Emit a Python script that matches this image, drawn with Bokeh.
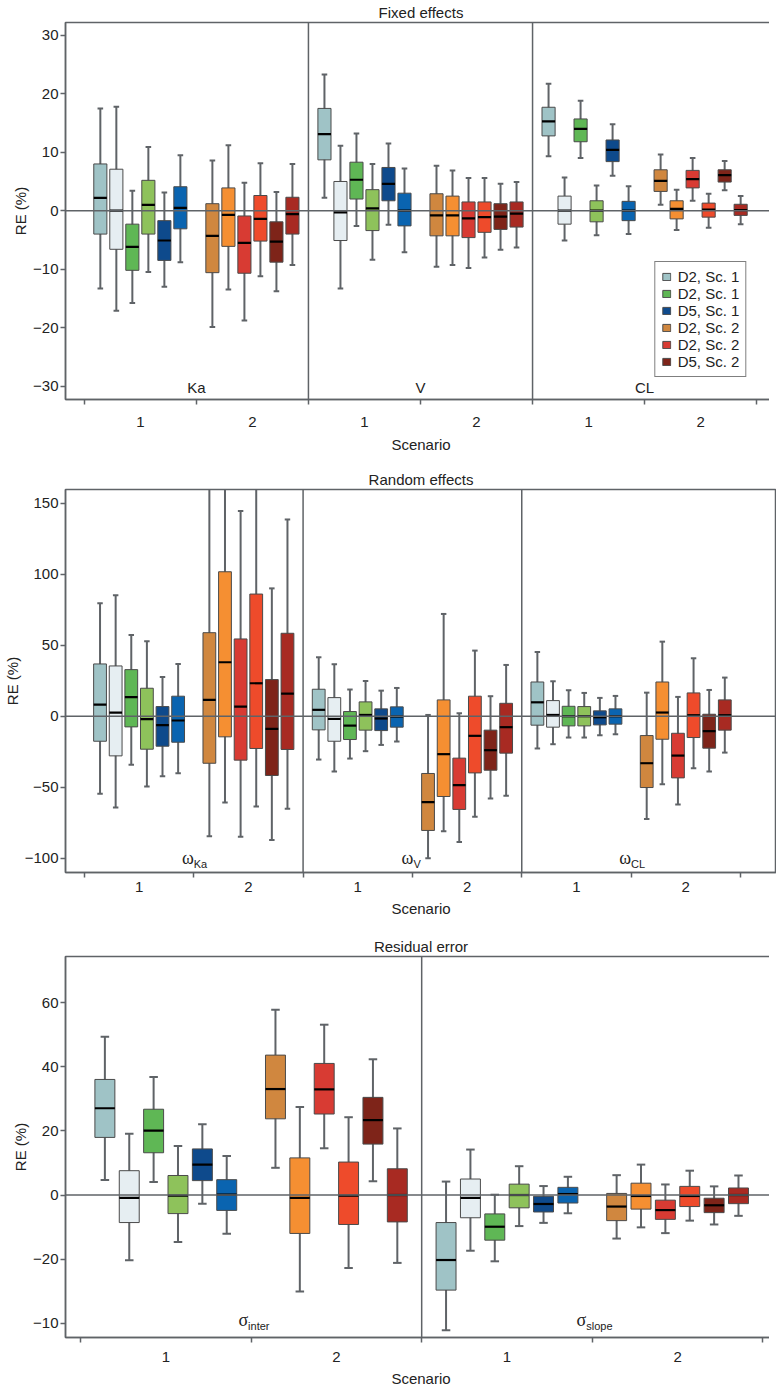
from bokeh.plotting import figure
from bokeh.models import Range1d, FixedTicker, Span, Legend, LegendItem, ColumnDataSource
from bokeh.layouts import column
from bokeh.embed import file_html
from bokeh.resources import INLINE
from bokeh.core.properties import value

# ---------------- data ----------------
SERIES = ["D2, Sc. 1 (a)", "D2, Sc. 1 (b)", "D2, Sc. 1 (c)", "D2, Sc. 1 (d)", "D5, Sc. 1 (a)", "D5, Sc. 1 (b)",
          "D2, Sc. 2 (a)", "D2, Sc. 2 (b)", "D2, Sc. 2 (c)", "D2, Sc. 2 (d)", "D5, Sc. 2 (a)", "D5, Sc. 2 (b)"]
COLORS = ["#9fc3c6", "#e6eef2", "#5fb755", "#8ec25b", "#0e4a8c", "#0a64b0",
          "#d0873f", "#f58f32", "#d83b33", "#ee4b2b", "#7e2419", "#a82a22"]
LEGEND_LABELS = ["D2, Sc. 1", "D2, Sc. 1", "D5, Sc. 1", "D2, Sc. 2", "D2, Sc. 2", "D5, Sc. 2"]
LEGEND_SERIES = [0, 2, 4, 6, 8, 10]
SCENARIOS = ["1", "2"]

# Fixed effects
KA_LOW = [-13.3, -17.1, -15.8, -10.5, -13.0, -8.8, -19.9, -13.5, -18.8, -11.2, -13.8, -9.3]
KA_Q1 = [-4.0, -6.6, -10.2, -4.0, -8.5, -3.1, -10.6, -6.1, -10.7, -5.2, -8.8, -4.0]
KA_MED = [2.2, 0.0, -6.2, 1.0, -5.1, 0.5, -4.3, -0.7, -5.5, -1.4, -5.3, -0.6]
KA_Q3 = [8.0, 7.1, -2.3, 5.2, -1.7, 4.1, 1.2, 3.9, -0.9, 2.6, -1.9, 2.3]
KA_HIGH = [17.5, 17.8, 3.4, 10.9, 3.1, 9.5, 8.6, 11.2, 4.8, 8.1, 3.2, 8.0]

V_LOW = [2.2, -13.3, -2.6, -8.4, -2.4, -7.1, -9.6, -9.3, -9.8, -8.0, -6.7, -6.3]
V_Q1 = [8.7, -5.1, 2.0, -3.4, 1.7, -2.6, -4.3, -4.3, -4.6, -3.7, -3.2, -2.8]
V_MED = [13.1, -0.3, 5.3, 0.4, 4.6, 0.0, -0.8, -0.8, -1.3, -1.1, -1.0, -0.5]
V_Q3 = [17.5, 5.0, 8.3, 3.6, 7.4, 3.0, 2.9, 2.5, 1.5, 1.5, 1.2, 1.5]
V_HIGH = [23.3, 11.1, 13.2, 8.0, 11.5, 7.2, 7.7, 6.9, 5.6, 5.6, 4.6, 4.9]

CL_LOW = [9.3, -5.1, 9.0, -4.2, 6.0, -4.0, 1.0, -3.3, 1.7, -2.9, 3.5, -2.3]
CL_Q1 = [12.8, -2.3, 11.8, -1.9, 8.4, -1.7, 3.3, -1.4, 3.9, -1.1, 4.9, -0.8]
CL_MED = [15.3, 0.0, 14.0, 0.0, 10.4, 0.0, 5.1, 0.3, 5.4, 0.2, 6.1, 0.1]
CL_Q3 = [17.7, 2.5, 15.7, 1.7, 12.1, 1.6, 7.0, 1.7, 6.9, 1.3, 7.0, 1.1]
CL_HIGH = [21.7, 5.7, 18.8, 4.3, 14.8, 4.2, 9.6, 3.6, 9.0, 2.9, 8.5, 2.5]

# Random effects
WKA_LOW = [-54.6, -64.2, -34.2, -49.5, -42.2, -40.1, -84.4, -60.7, -84.9, -63.5, -87.2, -65.2]
WKA_Q1 = [-17.6, -27.9, -7.5, -23.2, -21.1, -18.3, -33.1, -14.5, -30.9, -22.7, -41.7, -23.4]
WKA_MED = [8.2, 2.6, 13.4, -2.1, -6.3, -3.0, 11.5, 38.0, 6.8, 23.2, -8.9, 15.9]
WKA_Q3 = [36.8, 35.4, 32.8, 19.7, 6.8, 14.1, 58.8, 101.7, 54.4, 86.0, 25.8, 58.4]
WKA_HIGH = [79.5, 85.1, 57.2, 52.7, 27.7, 36.8, 175.0, 190.0, 144.4, 170.0, 90.0, 138.5]

WV_LOW = [-30.5, -38.9, -29.8, -24.6, -20.2, -17.8, -99.9, -80.9, -88.6, -70.8, -57.9, -56.0]
WV_Q1 = [-9.6, -17.6, -16.4, -9.8, -10.1, -7.7, -80.4, -56.5, -65.6, -39.9, -38.0, -26.0]
WV_MED = [4.5, -1.9, -6.6, 0.9, -1.6, -0.2, -60.5, -26.7, -48.5, -13.8, -23.9, -7.7]
WV_Q3 = [19.0, 13.1, 3.3, 10.1, 5.2, 6.6, -40.3, 11.5, -29.5, 14.1, -9.8, 9.1]
WV_HIGH = [41.5, 36.6, 18.8, 24.8, 18.0, 19.9, 0.9, 72.0, 2.1, 46.2, 14.1, 36.1]

WCL_LOW = [-22.7, -19.7, -15.0, -15.0, -13.4, -12.7, -72.4, -47.8, -62.1, -36.6, -38.9, -25.6]
WCL_Q1 = [-6.3, -7.7, -6.8, -6.8, -6.1, -5.6, -50.2, -16.2, -43.4, -15.0, -22.5, -9.8]
WCL_MED = [9.8, 0.9, 0.0, 0.0, -0.7, 0.0, -33.1, 2.6, -27.7, 0.7, -10.5, 0.7]
WCL_Q3 = [24.1, 11.0, 7.0, 6.8, 3.8, 5.2, -13.6, 24.1, -12.0, 16.4, 1.4, 11.5]
WCL_HIGH = [45.2, 24.6, 18.3, 16.4, 12.9, 14.3, 16.6, 52.5, 13.6, 40.8, 18.5, 27.2]

# Residual error
SI_LOW = [4.7, -20.4, 4.1, -14.7, -2.7, -12.1, 8.5, -30.1, 14.6, -22.8, 4.3, -21.2]
SI_Q1 = [18.0, -8.6, 13.2, -5.8, 4.5, -4.8, 23.8, -12.0, 25.3, -9.2, 15.9, -8.4]
SI_MED = [27.1, -0.9, 20.1, -0.2, 9.5, 0.1, 33.1, -0.9, 33.0, -0.2, 23.4, 0.0]
SI_Q3 = [36.1, 7.6, 26.8, 6.1, 14.4, 4.8, 43.7, 11.6, 41.1, 10.3, 30.5, 8.2]
SI_HIGH = [49.4, 19.1, 36.9, 15.3, 22.1, 12.2, 57.9, 27.5, 53.2, 24.3, 42.4, 20.8]

SS_LOW = [-42.2, -17.4, -20.7, -9.7, -8.7, -5.7, -13.6, -10.1, -11.9, -8.0, -9.2, -6.5]
SS_Q1 = [-29.7, -7.1, -14.1, -4.0, -5.3, -2.5, -8.0, -4.4, -7.6, -3.6, -5.5, -2.7]
SS_MED = [-20.3, -0.9, -9.9, 0.0, -2.8, 0.3, -3.6, -0.3, -4.7, -0.3, -3.2, 0.0]
SS_Q3 = [-8.6, 5.0, -5.9, 3.4, -0.4, 2.4, 0.5, 3.7, -1.6, 2.7, -1.0, 2.2]
SS_HIGH = [4.2, 14.2, 0.1, 9.0, 2.8, 5.7, 6.2, 9.5, 3.3, 7.6, 2.7, 6.1]

Y1_TICKS = [-30, -20, -10, 0, 10, 20, 30]
Y1_LABELS = ["\u221230", "\u221220", "\u221210", "0", "10", "20", "30"]
Y2_TICKS = [-100, -50, 0, 50, 100, 150]
Y2_LABELS = ["\u2212100", "\u221250", "0", "50", "100", "150"]
Y3_TICKS = [-40, -20, 0, 20, 40, 60]
Y3_LABELS = ["\u221210", "\u221220", "0", "20", "40", "60"]

FONT = "Liberation Sans"
GREY = "#5f6367"
BOX_W = 0.117
CAP_W = 0.05
LEFT = 58
FRAME_W = 711


def build_panel(title, params, labels, x_range, y_range, yticks, ylabels,
                frame_h, border_b, tick_standoff, lab_standoff, legend=False):
    n = len(params)
    p = figure(frame_width=FRAME_W, frame_height=frame_h, output_backend="svg",
               toolbar_location=None, x_range=Range1d(*x_range), y_range=Range1d(*y_range),
               min_border_left=LEFT, min_border_right=0, min_border_top=0,
               min_border_bottom=border_b)
    p.title.text = title
    p.title.align = "center"
    p.title.text_font = FONT
    p.title.text_font_size = "15px"
    p.title.text_font_style = "normal"
    p.title.text_color = "#222222"
    p.title.standoff = 3
    p.title.offset = 0
    p.grid.visible = False
    p.outline_line_color = GREY
    p.outline_line_width = 1.5
    p.background_fill_color = "white"
    p.border_fill_color = "white"

    # x axis: scenario labels centred between boundary ticks
    centers = [2 * s + c + 0.5 for s in range(n) for c in range(2)]
    bounds = list(range(2 * n + 1))
    p.xaxis.ticker = FixedTicker(ticks=centers, minor_ticks=bounds)
    p.xaxis.major_label_overrides = {c: SCENARIOS[i % 2] for i, c in enumerate(centers)}
    p.xaxis.major_tick_out = 0
    p.xaxis.major_tick_in = 0
    p.xaxis.minor_tick_out = 5
    p.xaxis.minor_tick_in = 0
    p.xaxis.minor_tick_line_color = GREY
    p.xaxis.minor_tick_line_width = 1.5
    p.xaxis.major_label_standoff = tick_standoff
    p.xaxis.axis_label = "Scenario"
    p.xaxis.axis_label_standoff = lab_standoff

    p.yaxis.ticker = FixedTicker(ticks=yticks, minor_ticks=[])
    p.yaxis.major_label_overrides = {t: l for t, l in zip(yticks, ylabels)}
    p.yaxis.major_tick_out = 5
    p.yaxis.major_tick_in = 0
    p.yaxis.major_tick_line_color = GREY
    p.yaxis.major_tick_line_width = 1.5
    p.yaxis.major_label_standoff = 2
    p.yaxis.axis_label = "RE (%)"
    p.yaxis.axis_label_standoff = 1

    for ax in (p.xaxis, p.yaxis):
        ax.axis_line_color = GREY
        ax.axis_line_width = 1.5
        ax.major_label_text_font = FONT
        ax.major_label_text_font_size = "15px"
        ax.major_label_text_color = "#222222"
        ax.axis_label_text_font = FONT
        ax.axis_label_text_font_size = "15px"
        ax.axis_label_text_font_style = "normal"
        ax.axis_label_text_color = "#222222"

    box_renderers = []
    for c in range(12):
        xs = [2 * s + c // 6 + (c % 6 + 1) / 7 for s in range(n)]
        lo = [params[s][0][c] for s in range(n)]
        q1 = [params[s][1][c] for s in range(n)]
        md = [params[s][2][c] for s in range(n)]
        q3 = [params[s][3][c] for s in range(n)]
        hi = [params[s][4][c] for s in range(n)]
        src = ColumnDataSource(dict(
            x=xs, lo=lo, q1=q1, md=md, q3=q3, hi=hi,
            xl=[x - CAP_W / 2 for x in xs], xr=[x + CAP_W / 2 for x in xs],
            bl=[x - BOX_W / 2 for x in xs], br=[x + BOX_W / 2 for x in xs]))
        p.segment(x0="x", y0="lo", x1="x", y1="hi", source=src, line_color=GREY, line_width=2)
        p.segment(x0="xl", y0="lo", x1="xr", y1="lo", source=src, line_color=GREY, line_width=2)
        p.segment(x0="xl", y0="hi", x1="xr", y1="hi", source=src, line_color=GREY, line_width=2)
        r = p.vbar(x="x", width=BOX_W, bottom="q1", top="q3", source=src,
                   fill_color=COLORS[c], line_color="#4a4a4a", line_width=1)
        p.segment(x0="bl", y0="md", x1="br", y1="md", source=src, line_color="black", line_width=2.2)
        box_renderers.append(r)

    p.add_layout(Span(location=0, dimension="width", line_color=GREY, line_width=1.5))
    for b in range(2, 2 * n, 2):
        p.add_layout(Span(location=b, dimension="height", line_color=GREY, line_width=1.5))

    for (main, sub, xpos, ypos, off) in labels:
        if sub:
            p.text(x=[xpos], y=[ypos], text=[main], text_font=value("Liberation Serif"),
                   text_font_size="18px", text_align="right", text_baseline="middle",
                   x_offset=off, text_color="#222222")
            p.text(x=[xpos], y=[ypos], text=[sub], text_font=value(FONT),
                   text_font_size="11px", text_align="left", text_baseline="middle",
                   x_offset=off, y_offset=6, text_color="#222222")
        else:
            p.text(x=[xpos], y=[ypos], text=[main], text_font=value(FONT),
                   text_font_size="15px", text_align="center", text_baseline="middle",
                   text_color="#222222")

    if legend:
        items = [LegendItem(label=lab, renderers=[box_renderers[i]])
                 for lab, i in zip(LEGEND_LABELS, LEGEND_SERIES)]
        lg = Legend(items=items, location="bottom_right", margin=22, padding=6, spacing=0,
                    glyph_width=10, glyph_height=9, label_height=14, label_standoff=6,
                    label_text_font=FONT, label_text_font_size="15px",
                    label_text_color="#222222",
                    border_line_color="black", border_line_width=1.5,
                    background_fill_alpha=1.0)
        p.add_layout(lg)
    return p


p1 = build_panel("Fixed effects",
                 [(KA_LOW, KA_Q1, KA_MED, KA_Q3, KA_HIGH),
                  (V_LOW, V_Q1, V_MED, V_Q3, V_HIGH),
                  (CL_LOW, CL_Q1, CL_MED, CL_Q3, CL_HIGH)],
                 [("Ka", None, 1, -30.3, 0), ("V", None, 3, -30.3, 0), ("CL", None, 5, -30.3, 0)],
                 (-0.168, 6.177), (-32.3, 32.2), Y1_TICKS, Y1_LABELS,
                 377, 68, 12, 6, legend=True)

p2 = build_panel("Random effects",
                 [(WKA_LOW, WKA_Q1, WKA_MED, WKA_Q3, WKA_HIGH),
                  (WV_LOW, WV_Q1, WV_MED, WV_Q3, WV_HIGH),
                  (WCL_LOW, WCL_Q1, WCL_MED, WCL_Q3, WCL_HIGH)],
                 [("\u03c9", "Ka", 1, -100.0, 0), ("\u03c9", "V", 3, -100.0, 1),
                  ("\u03c9", "CL", 5, -100.0, 0)],
                 (-0.173, 6.33), (-110.0, 159.6), Y2_TICKS, Y2_LABELS,
                 383, 62, 4, 5)

p3 = build_panel("Residual error",
                 [(SI_LOW, SI_Q1, SI_MED, SI_Q3, SI_HIGH),
                  (SS_LOW, SS_Q1, SS_MED, SS_Q3, SS_HIGH)],
                 [("\u03c3", "inter", 1, -39.0, -3), ("\u03c3", "slope", 3, -39.0, -6)],
                 (-0.088, 4.08), (-44.5, 74.5), Y3_TICKS, Y3_LABELS,
                 381, 46, 9, 5)

layout = column(p1, p2, p3, spacing=0)
open("out.html", "w").write(file_html(layout, INLINE))
